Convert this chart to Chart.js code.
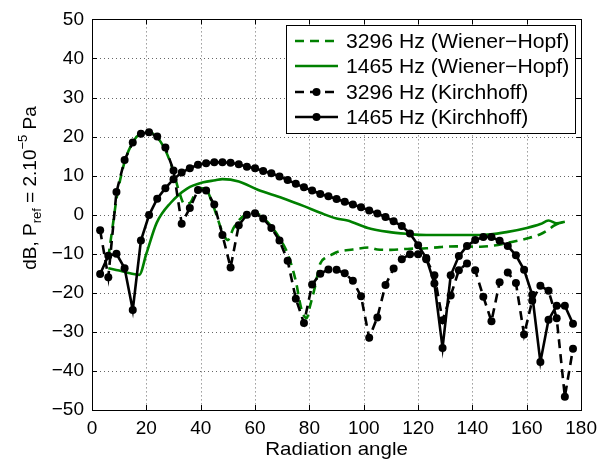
<!DOCTYPE html>
<html><head><meta charset="utf-8">
<script src="https://cdn.jsdelivr.net/npm/chart.js@4"></script>
<style>html,body{margin:0;padding:0;background:#fff;} canvas{display:block;}</style>
</head><body>
<canvas id="c" width="604" height="459" style="width:604px;height:459px"></canvas>
<script>
// ---------- data ----------
const xTicks = [0, 20, 40, 60, 80, 100, 120, 140, 160, 180];
const yTicks = [-50, -40, -30, -20, -10, 0, 10, 20, 30, 40, 50];

const seriesLabels = ['3296 Hz (Wiener\u2212Hopf)', '1465 Hz (Wiener\u2212Hopf)', '3296 Hz (Kirchhoff)', '1465 Hz (Kirchhoff)'];

// Kirchhoff angles (markers)
const kAngles = [3,6,9,12,15,18,21,24,27,30,33,36,39,42,45,48,51,54,57,60,63,66,69,72,75,78,81,84,87,90,93,96,99,102,105,108,111,114,117,120,123,126,129,132,135,138,141,144,147,150,153,156,159,162,165,168,171,174,177];
const k3296 = [-4,-16,5.8,14,18.5,20.7,21.1,20,17.2,11.3,-2.3,1.7,6.3,6.2,2.6,-5.2,-13.5,-2.7,0.0,0.4,-1.0,-3.4,-6.6,-11.8,-21.5,-27.7,-17.9,-15.1,-14.0,-14.1,-15.0,-16.9,-20.9,-31.5,-26.3,-18.0,-13.8,-11.4,-10.1,-10.1,-11.4,-15.5,-27,-20.7,-14.2,-12.5,-14.2,-21.0,-27.3,-17.3,-14.8,-17.5,-30.7,-22,-18.2,-19.5,-26.5,-46.6,-34.3];
const k1465 = [-15.2,-10.5,-10,-13.7,-24.4,-6.6,-0.1,4.1,6.8,9.1,10.8,11.9,12.8,13.2,13.4,13.4,13.3,12.9,12.3,11.9,11.2,10.6,9.8,8.9,7.9,7.0,6.2,5.3,4.7,4.0,3.3,2.6,1.9,1.1,0.3,-0.6,-1.7,-2.9,-4.8,-7.8,-11.1,-17.6,-34.1,-15.5,-10.6,-8,-6.5,-5.7,-5.7,-6.7,-8,-10.4,-14.1,-20.5,-37.7,-26.9,-23.3,-23.3,-27.9];

// Wiener-Hopf curves (no markers)
const wh3296Angles = [6,8,9,12,15,18,21,24,27,30,32,34,36,38,40,42,44,46,48,50,52,54,57,60,63,66,69,72,75,77,79,80,82,84,86,88,90.5,96,102,105,110,117,123,128,134,143,148,153,160,165,168,170,172];
const wh3296 = [-11,-1,4,13.5,18.5,20.8,21.1,19.8,16.5,11,6,2.8,3.0,5.5,6.8,6.5,3.5,-0.5,-4.5,-6.5,-3.5,-1.5,0.2,0.5,-0.8,-3,-6,-10,-17,-24,-26.5,-24,-18.6,-12.5,-11,-10.3,-9.5,-8.9,-8.4,-8.9,-9.0,-8.7,-8.6,-8.3,-8.1,-8.2,-7.9,-7.2,-6.1,-5.0,-3.8,-2.8,-2.1];
const wh1465Angles = [6,10,14,17.4,20,23.8,28.9,35,41,45.4,48,54,61,70,78,84,90,94,101.5,109,116,123,134,143,153,160,165,168,171,174];
const wh1465 = [-13.7,-14.3,-15,-15.4,-10,-2.1,3.0,6.7,8.3,8.8,9.1,8.5,6.4,4.3,2.2,0.5,-1.0,-1.5,-3.4,-4.4,-4.9,-5.2,-5.2,-5.2,-4.4,-3.4,-2.4,-1.5,-2.2,-1.8];

// ---------- helpers ----------
const FONT = '"Liberation Sans", Arial, Helvetica, sans-serif';
const GREEN = '#008000';
const pts = (xs, ys) => xs.map((v, i) => ({x: v, y: ys[i]}));

const datasets = [
  {label: seriesLabels[0], data: pts(wh3296Angles, wh3296), borderColor: GREEN, borderWidth: 2.6, borderDash: [9, 6], pointRadius: 0, cubicInterpolationMode: 'monotone', order: 2},
  {label: seriesLabels[1], data: pts(wh1465Angles, wh1465), borderColor: GREEN, borderWidth: 2.6, pointRadius: 0, cubicInterpolationMode: 'monotone', order: 3},
  {label: seriesLabels[2], data: pts(kAngles, k3296), borderColor: '#000', backgroundColor: '#000', borderWidth: 2.6, borderDash: [9, 6], pointRadius: 4, pointBorderWidth: 0, pointBackgroundColor: '#000', order: 1},
  {label: seriesLabels[3], data: pts(kAngles, k1465), borderColor: '#000', backgroundColor: '#000', borderWidth: 2.6, pointRadius: 4, pointBorderWidth: 0, pointBackgroundColor: '#000', order: 0}
];

const minus = v => String(v).replace('-', '\u2212');

const matlabPlugin = {
  id: 'matlab',
  beforeDatasetsDraw(chart) {
    const {ctx, chartArea: a, scales: {x, y}} = chart;
    ctx.save();
    ctx.strokeStyle = 'rgba(0,0,0,0.6)';
    ctx.lineWidth = 1;
    ctx.setLineDash([1, 3]);
    xTicks.forEach(v => {
      if (v === xTicks[0] || v === xTicks[xTicks.length - 1]) return;
      const px = Math.round(x.getPixelForValue(v)) + 0.5;
      ctx.beginPath(); ctx.moveTo(px, a.top); ctx.lineTo(px, a.bottom); ctx.stroke();
    });
    yTicks.forEach(v => {
      if (v === yTicks[0] || v === yTicks[yTicks.length - 1]) return;
      const py = Math.round(y.getPixelForValue(v)) + 0.5;
      ctx.beginPath(); ctx.moveTo(a.left, py); ctx.lineTo(a.right, py); ctx.stroke();
    });
    ctx.restore();
  },
  afterDatasetsDraw(chart) {
    const {ctx, chartArea: a, scales: {x, y}} = chart;
    ctx.save();
    // box
    ctx.strokeStyle = '#000';
    ctx.lineWidth = 1;
    ctx.setLineDash([]);
    ctx.strokeRect(Math.round(a.left) + 0.5, Math.round(a.top) + 0.5, Math.round(a.right - a.left), Math.round(a.bottom - a.top));
    // inward ticks
    const tl = 5;
    xTicks.forEach(v => {
      const px = Math.round(x.getPixelForValue(v)) + 0.5;
      ctx.beginPath();
      ctx.moveTo(px, a.bottom); ctx.lineTo(px, a.bottom - tl);
      ctx.moveTo(px, a.top); ctx.lineTo(px, a.top + tl);
      ctx.stroke();
    });
    yTicks.forEach(v => {
      const py = Math.round(y.getPixelForValue(v)) + 0.5;
      ctx.beginPath();
      ctx.moveTo(a.left, py); ctx.lineTo(a.left + tl, py);
      ctx.moveTo(a.right, py); ctx.lineTo(a.right - tl, py);
      ctx.stroke();
    });
    // legend
    const bx = 286, by = 25, bw = 289, bh = 108;
    ctx.fillStyle = '#fff';
    ctx.fillRect(bx, by, bw, bh);
    ctx.strokeRect(bx + 0.5, by + 0.5, bw, bh);
    const rows = [41, 66, 92, 117];
    chart.data.datasets.forEach((ds, i) => {
      const ry = rows[i];
      ctx.strokeStyle = ds.borderColor;
      ctx.lineWidth = ds.borderWidth;
      ctx.setLineDash(ds.borderDash || []);
      ctx.beginPath(); ctx.moveTo(295, ry); ctx.lineTo(338, ry); ctx.stroke();
      ctx.setLineDash([]);
      if (ds.pointRadius > 0) {
        ctx.fillStyle = ds.pointBackgroundColor;
        ctx.beginPath(); ctx.arc(316.5, ry, ds.pointRadius, 0, Math.PI * 2); ctx.fill();
      }
      ctx.save();
      ctx.fillStyle = '#000';
      ctx.font = '20px ' + FONT;
      ctx.textAlign = 'left';
      ctx.textBaseline = 'middle';
      ctx.translate(346, ry + 1);
      ctx.scale(1.06, 1);
      ctx.fillText(ds.label, 0, 0);
      ctx.restore();
    });
    ctx.restore();
  },
  afterDraw(chart) {
    const {ctx, chartArea: a} = chart;
    ctx.save();
    ctx.fillStyle = '#000';
    // x title
    ctx.save();
    ctx.font = '19px ' + FONT;
    ctx.textAlign = 'center';
    ctx.textBaseline = 'alphabetic';
    ctx.translate((a.left + a.right) / 2, 455);
    ctx.scale(1.08, 1);
    ctx.fillText('Radiation angle', 0, 0);
    ctx.restore();
    // y title with sub/superscripts
    const parts = [
      {t: 'dB, P', s: 19, dy: 0},
      {t: 'ref', s: 13, dy: 5},
      {t: ' = 2.10', s: 19, dy: 0},
      {t: '\u22125', s: 13, dy: -9},
      {t: ' Pa', s: 19, dy: 0}
    ];
    let total = 0;
    parts.forEach(p => { ctx.font = p.s + 'px ' + FONT; p.w = ctx.measureText(p.t).width; total += p.w; });
    ctx.translate(36, 188);
    ctx.rotate(-Math.PI / 2);
    ctx.textAlign = 'left';
    let cx = -total / 2;
    parts.forEach(p => { ctx.font = p.s + 'px ' + FONT; ctx.fillText(p.t, cx, p.dy); cx += p.w; });
    ctx.restore();
  }
};

new Chart(document.getElementById('c'), {
  type: 'line',
  data: {datasets},
  options: {
    responsive: false,
    animation: false,
    devicePixelRatio: 1,
    layout: {padding: {left: 0, right: 19, top: 17, bottom: 0}},
    plugins: {legend: {display: false}, tooltip: {enabled: false}},
    elements: {line: {tension: 0}},
    scales: {
      x: {
        type: 'linear', min: 0, max: 180,
        afterBuildTicks: s => { s.ticks = xTicks.map(v => ({value: v})); },
        afterFit: s => { s.height = 49; },
        grid: {display: false, drawTicks: false},
        border: {display: false},
        ticks: {color: '#000', padding: 7, maxRotation: 0, autoSkip: false, font: {family: FONT, size: 19}, callback: v => minus(v)}
      },
      y: {
        type: 'linear', min: -50, max: 50,
        afterBuildTicks: s => { s.ticks = yTicks.map(v => ({value: v})); },
        afterFit: s => { s.width = 92; },
        grid: {display: false, drawTicks: false},
        border: {display: false},
        ticks: {color: '#000', padding: 8, autoSkip: false, font: {family: FONT, size: 19}, callback: v => minus(v)}
      }
    }
  },
  plugins: [matlabPlugin]
});
</script>
</body></html>
